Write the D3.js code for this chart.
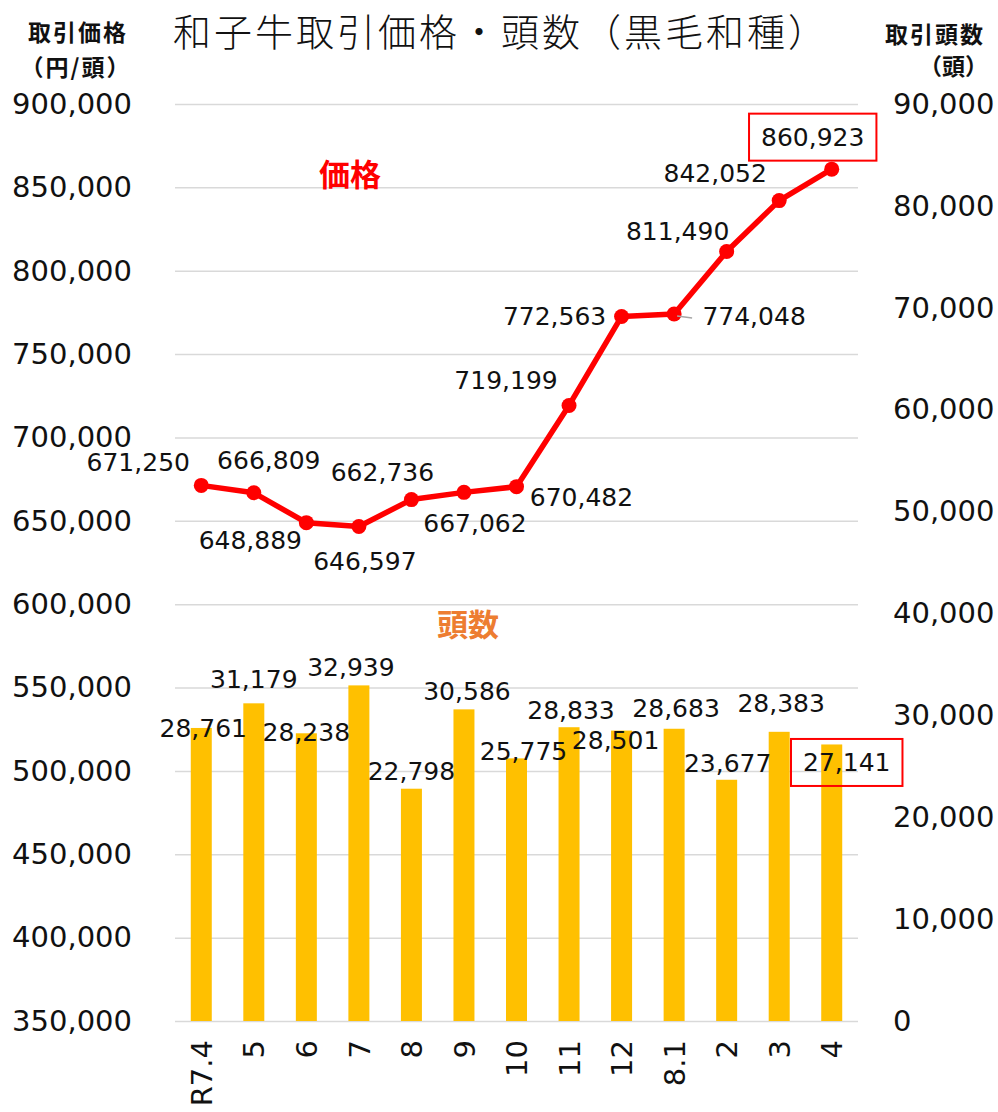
<!DOCTYPE html>
<html lang="ja">
<head>
<meta charset="utf-8">
<title>和子牛取引価格・頭数（黒毛和種）</title>
<script src="https://cdn.jsdelivr.net/npm/d3@7"></script>
<style>
  body { margin: 0; background: #fff; }
  svg { display: block; }
  .num { font-family: "DejaVu Sans", sans-serif; fill: #111; }
  .jp { font-family: "Noto Sans CJK JP", sans-serif; fill: #111; }
</style>
</head>
<body>
<div id="chart"></div>
<script>
// data
const months = ['R7.4', '5', '6', '7', '8', '9', '10', '11', '12', '8.1', '2', '3', '4'];
const prices = [671250, 666809, 648889, 646597, 662736, 667062, 670482, 719199, 772563, 774048, 811490, 842052, 860923];
const heads = [28761, 31179, 28238, 32939, 22798, 30586, 25775, 28833, 28501, 28683, 23677, 28383, 27141];
const priceTicks = [350000, 400000, 450000, 500000, 550000, 600000, 650000, 700000, 750000, 800000, 850000, 900000];
const headTicks = [0, 10000, 20000, 30000, 40000, 50000, 60000, 70000, 80000, 90000];

// where each data label sits relative to its mark (hand placed like the original)
const priceLabelOffset = [[-63, -23], [15, -32], [-56, 18], [6, 35], [-29, -27], [11, 31], [65, 11],
  [-63, -25], [-67, 0], [80, 3], [-49, -20], [-64, -27], [-19, -32]];
const headLabelOffset = [[2, 1], [0, -24], [0, -1], [-8, -18], [0, -17], [3, -18], [7, -7],
  [2, -17], [-6, 10], [2, -20], [1, -16], [2, -28], [15, 18]];
const boxedPrice = 12; // last month gets a red box
const boxedHead = 12;

const width = 998;
const height = 1112;
const margin = { top: 104, right: 140, bottom: 91, left: 175 };

const svg = d3.select('#chart')
  .append('svg')
  .attr('width', width)
  .attr('height', height);

svg.append('rect').attr('width', width).attr('height', height).attr('fill', '#fff');

// scales
const x = d3.scalePoint()
  .domain(months)
  .range([margin.left, width - margin.right])
  .padding(0.5);

const yPrice = d3.scaleLinear()
  .domain([350000, 900000])
  .range([height - margin.bottom, margin.top]);

const yHead = d3.scaleLinear()
  .domain([0, 90000])
  .range([height - margin.bottom, margin.top]);

const fmt = d3.format(',');

// gridlines
svg.append('g')
  .attr('transform', `translate(${margin.left},0)`)
  .call(d3.axisLeft(yPrice).tickValues(priceTicks).tickSize(-(width - margin.left - margin.right)).tickFormat(''))
  .call((g) => g.select('.domain').remove())
  .selectAll('line')
  .attr('stroke', '#d9d9d9')
  .attr('stroke-width', 1.5);

// left axis labels
svg.append('g')
  .attr('transform', 'translate(132,0)')
  .call(d3.axisLeft(yPrice).tickValues(priceTicks).tickSize(0).tickPadding(0).tickFormat(fmt))
  .call((g) => g.select('.domain').remove())
  .selectAll('text')
  .attr('class', 'num')
  .attr('font-size', 29)
  .attr('fill', '#111');

// right axis labels
svg.append('g')
  .attr('transform', 'translate(893,0)')
  .call(d3.axisRight(yHead).tickValues(headTicks).tickSize(0).tickPadding(0).tickFormat(fmt))
  .call((g) => g.select('.domain').remove())
  .selectAll('text')
  .attr('class', 'num')
  .attr('font-size', 29)
  .attr('fill', '#111');

// x axis, labels turned sideways
svg.append('g')
  .attr('transform', `translate(0,${height - margin.bottom})`)
  .call(d3.axisBottom(x).tickSize(0))
  .call((g) => g.select('.domain').remove())
  .selectAll('text')
  .attr('class', 'num')
  .attr('font-size', 29)
  .attr('fill', '#111')
  .attr('transform', 'rotate(-90)')
  .attr('x', -19)
  .attr('y', 0)
  .attr('dy', '0.35em')
  .style('text-anchor', 'end');

// bars (heads)
const barW = 21;
svg.append('g')
  .selectAll('rect')
  .data(heads)
  .join('rect')
  .attr('x', (d, i) => x(months[i]) - barW / 2)
  .attr('y', (d) => yHead(d))
  .attr('width', barW)
  .attr('height', (d) => yHead(0) - yHead(d))
  .attr('fill', '#ffc000');

// price line
const line = d3.line()
  .x((d, i) => x(months[i]))
  .y((d) => yPrice(d));

svg.append('path')
  .datum(prices)
  .attr('fill', 'none')
  .attr('stroke', '#ff0000')
  .attr('stroke-width', 5.5)
  .attr('stroke-linejoin', 'round')
  .attr('d', line);

svg.append('g')
  .selectAll('circle')
  .data(prices)
  .join('circle')
  .attr('cx', (d, i) => x(months[i]))
  .attr('cy', (d) => yPrice(d))
  .attr('r', 7.5)
  .attr('fill', '#ff0000');

// small leader line for 774,048
svg.append('line')
  .attr('x1', x(months[9]) + 3)
  .attr('y1', yPrice(prices[9]) + 2)
  .attr('x2', x(months[9]) + 18)
  .attr('y2', yPrice(prices[9]) + 4)
  .attr('stroke', '#a6a6a6')
  .attr('stroke-width', 1.5);

// bar labels
const headLabels = svg.append('g')
  .selectAll('text')
  .data(heads)
  .join('text')
  .attr('class', 'num')
  .attr('font-size', 25)
  .attr('text-anchor', 'middle')
  .attr('dominant-baseline', 'central')
  .attr('x', (d, i) => x(months[i]) + headLabelOffset[i][0])
  .attr('y', (d, i) => yHead(d) + headLabelOffset[i][1])
  .text(fmt);

// price labels
const priceLabels = svg.append('g')
  .selectAll('text')
  .data(prices)
  .join('text')
  .attr('class', 'num')
  .attr('font-size', 25)
  .attr('text-anchor', 'middle')
  .attr('dominant-baseline', 'central')
  .attr('x', (d, i) => x(months[i]) + priceLabelOffset[i][0])
  .attr('y', (d, i) => yPrice(d) + priceLabelOffset[i][1])
  .text(fmt);

// red boxes round the latest values
const boxIt = (node) => {
  const b = node.getBBox();
  svg.append('rect')
    .attr('x', b.x - 12)
    .attr('y', b.y - 9)
    .attr('width', b.width + 24)
    .attr('height', b.height + 18)
    .attr('fill', 'none')
    .attr('stroke', '#ff0000')
    .attr('stroke-width', 2);
};
boxIt(priceLabels.nodes()[boxedPrice]);
boxIt(headLabels.nodes()[boxedHead]);

// series names
svg.append('text')
  .attr('class', 'jp')
  .attr('x', 350)
  .attr('y', 172)
  .attr('text-anchor', 'middle')
  .attr('dominant-baseline', 'central')
  .attr('font-size', 31)
  .attr('font-weight', 'bold')
  .style('fill', '#ff0000')
  .text('価格');

svg.append('text')
  .attr('class', 'jp')
  .attr('x', 468)
  .attr('y', 622)
  .attr('text-anchor', 'middle')
  .attr('dominant-baseline', 'central')
  .attr('font-size', 31)
  .attr('font-weight', 'bold')
  .style('fill', '#ed7d31')
  .text('頭数');

// title
svg.append('text')
  .attr('class', 'jp')
  .attr('x', width / 2 + 2)
  .attr('y', 29)
  .attr('text-anchor', 'middle')
  .attr('dominant-baseline', 'central')
  .attr('font-size', 38)
  .attr('font-weight', 300)
  .attr('letter-spacing', 3)
  .text('和子牛取引価格・頭数（黒毛和種）');

// axis titles
svg.append('text')
  .attr('class', 'jp')
  .attr('x', 78)
  .attr('y', 31)
  .attr('text-anchor', 'middle')
  .attr('dominant-baseline', 'central')
  .attr('font-size', 23)
  .attr('font-weight', 'bold')
  .attr('letter-spacing', 2)
  .text('取引価格');

svg.append('text')
  .attr('class', 'jp')
  .attr('x', 76)
  .attr('y', 66)
  .attr('text-anchor', 'middle')
  .attr('dominant-baseline', 'central')
  .attr('font-size', 23)
  .attr('font-weight', 'bold')
  .attr('letter-spacing', 2)
  .text('（円/頭）');

svg.append('text')
  .attr('class', 'jp')
  .attr('x', 985)
  .attr('y', 33)
  .attr('text-anchor', 'end')
  .attr('dominant-baseline', 'central')
  .attr('font-size', 23)
  .attr('font-weight', 'bold')
  .attr('letter-spacing', 2)
  .text('取引頭数');

svg.append('text')
  .attr('class', 'jp')
  .attr('x', 988)
  .attr('y', 65)
  .attr('text-anchor', 'end')
  .attr('dominant-baseline', 'central')
  .attr('font-size', 23)
  .attr('font-weight', 'bold')
  .text('（頭）');
</script>
</body>
</html>
